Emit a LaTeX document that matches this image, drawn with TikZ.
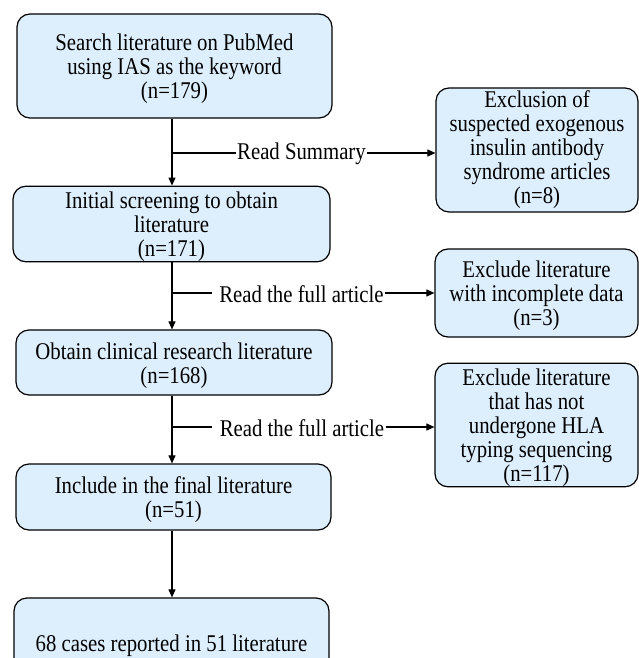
\documentclass[tikz,border=0pt]{standalone}
\usepackage{fontspec}
\setmainfont{Liberation Serif}[FakeStretch=0.865]
\usetikzlibrary{arrows.meta}
\definecolor{boxfill}{RGB}{221,238,252}
\newcommand{\mytopstrut}{\rule{0pt}{22.5pt}}
\begin{document}
\begin{tikzpicture}[x=1pt,y=-1pt,
  txt/.style={font=\fontsize{24}{24}\selectfont},
  box/.style={txt, draw=black, line width=1.2pt, fill=boxfill, rounded corners=13pt, align=center, inner sep=0pt},
  conn/.style={line width=1.1pt},
  arr/.style={conn,-{Triangle[length=8pt,width=7pt]}},
  lbl/.style={txt, inner sep=1.5pt}]
\useasboundingbox (0,0) rectangle (639,658);
\clip (0,0) rectangle (639,658);
% main column
\node[box, minimum width=315pt, minimum height=104pt] (s1) at (174.5,66) {\mytopstrut Search literature on PubMed\\using IAS as the keyword\\(n=179)};
\node[box, minimum width=317pt, minimum height=72pt] (s2) at (171.5,224) {\mytopstrut Initial screening to obtain\\literature\\(n=171)};
\node[box, minimum width=316pt, minimum height=65pt] (s3) at (174,362.5) {\mytopstrut Obtain clinical research literature\\(n=168)};
\node[box, minimum width=315pt, minimum height=66pt] (s4) at (173.5,497) {\mytopstrut Include in the final literature\\(n=51)};
\node[box, minimum width=315pt, minimum height=90pt] (s5) at (171.5,643) {\mytopstrut 68 cases reported in 51 literature};
% side boxes
\node[box, minimum width=202pt, minimum height=124pt] (e1) at (537,150) {Exclusion of\\suspected exogenous\\insulin antibody\\syndrome articles\\(n=8)};
\node[box, minimum width=203pt, minimum height=88pt] (e2) at (536.5,293) {\mytopstrut Exclude literature\\with incomplete data\\(n=3)};
\node[box, minimum width=203pt, minimum height=120pt] (e3) at (536.5,425) {\mytopstrut Exclude literature\\that has not\\undergone HLA\\typing sequencing\\(n=117)};
% connectors
\coordinate (ax) at (172,0);
\draw[arr] (s1.south -| ax) -- (s2.north -| ax);
\draw[arr] (s2.south -| ax) -- (s3.north -| ax);
\draw[arr] (s3.south -| ax) -- (s4.north -| ax);
\draw[arr] (s4.south -| ax) -- (s5.north -| ax);
% branch labels
\coordinate (b1) at (172,153);
\coordinate (b2) at (172,293);
\coordinate (b3) at (172,427);
\node[lbl] (l1) at (301.5,154) {Read Summary};
\node[lbl] (l2) at (301.5,294) {Read the full article};
\node[lbl] (l3) at (302,428) {Read the full article};
\draw[conn] (b1) -- (b1 -| l1.west);
\draw[arr] (b1 -| l1.east) -- (b1 -| e1.west);
\draw[conn] (b2) -- ([xshift=-6pt]b2 -| l2.west);
\draw[arr] (b2 -| l2.east) -- (b2 -| e2.west);
\draw[conn] (b3) -- ([xshift=-6pt]b3 -| l3.west);
\draw[arr] (b3 -| l3.east) -- (b3 -| e3.west);
\end{tikzpicture}
\end{document}
